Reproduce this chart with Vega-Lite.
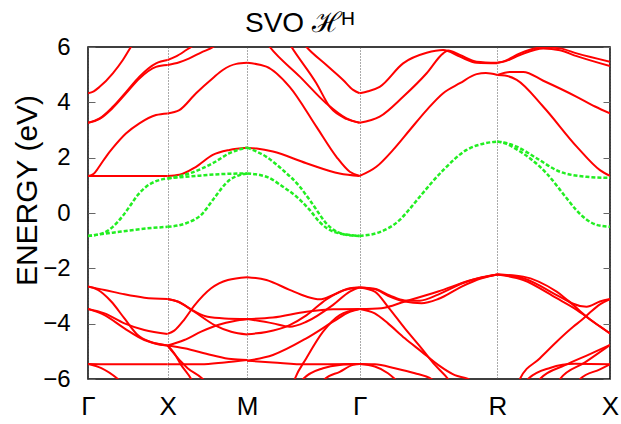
{
  "$schema": "https://vega.github.io/schema/vega-lite/v6.json",
  "width": 522,
  "height": 332,
  "autosize": {"type": "none"},
  "padding": {"left": 88, "top": 47, "right": 11, "bottom": 45},
  "background": "white",
  "title": {"text": "SVO ℋᴴ", "frame": "group", "anchor": "start", "dx": 157, "offset": -3, "fontSize": 28, "font": "Liberation Sans", "fontWeight": "normal", "color": "black"},
  "config": {
    "view": {"stroke": "black", "strokeWidth": 1.5},
    "axis": {"labelFont": "Liberation Sans", "titleFont": "Liberation Sans", "labelColor": "black", "titleColor": "black", "titleFontWeight": "normal"}
  },
  "datasets": {
    "red": [
      {"b": "r1", "k": 0, "e": 4.33}, {"b": "r1", "k": 0.036, "e": 4.4}, {"b": "r1", "k": 0.073, "e": 4.56}, {"b": "r1", "k": 0.156, "e": 5.05}, {"b": "r1", "k": 0.219, "e": 5.53}, {"b": "r1", "k": 0.271, "e": 6.01}, {"b": "r1", "k": 0.323, "e": 6.4},
      {"b": "r2", "k": 0, "e": 3.26}, {"b": "r2", "k": 0.073, "e": 3.42}, {"b": "r2", "k": 0.156, "e": 3.84}, {"b": "r2", "k": 0.24, "e": 4.38}, {"b": "r2", "k": 0.323, "e": 4.93}, {"b": "r2", "k": 0.4275, "e": 5.41}, {"b": "r2", "k": 0.5, "e": 5.53},
      {"b": "r3", "k": 0, "e": 3.26}, {"b": "r3", "k": 0.073, "e": 3.4}, {"b": "r3", "k": 0.156, "e": 3.8}, {"b": "r3", "k": 0.24, "e": 4.33}, {"b": "r3", "k": 0.323, "e": 4.86}, {"b": "r3", "k": 0.4275, "e": 5.28}, {"b": "r3", "k": 0.5, "e": 5.35},
      {"b": "r4", "k": 0, "e": 1.34}, {"b": "r4", "k": 0.25, "e": 1.34}, {"b": "r4", "k": 0.5, "e": 1.34},
      {"b": "r5", "k": 0, "e": 1.34}, {"b": "r5", "k": 0.036, "e": 1.42}, {"b": "r5", "k": 0.073, "e": 1.7}, {"b": "r5", "k": 0.115, "e": 2.05}, {"b": "r5", "k": 0.156, "e": 2.35}, {"b": "r5", "k": 0.24, "e": 2.88}, {"b": "r5", "k": 0.323, "e": 3.24}, {"b": "r5", "k": 0.4275, "e": 3.54}, {"b": "r5", "k": 0.5, "e": 3.6},
      {"b": "r6", "k": 0.5, "e": 3.6}, {"b": "r6", "k": 0.574, "e": 3.72}, {"b": "r6", "k": 0.679, "e": 4.33}, {"b": "r6", "k": 0.784, "e": 4.87}, {"b": "r6", "k": 0.847, "e": 5.17}, {"b": "r6", "k": 0.932, "e": 5.39}, {"b": "r6", "k": 1.0, "e": 5.43},
      {"b": "r7", "k": 0.5, "e": 1.34}, {"b": "r7", "k": 0.574, "e": 1.38}, {"b": "r7", "k": 0.679, "e": 1.67}, {"b": "r7", "k": 0.784, "e": 2.1}, {"b": "r7", "k": 0.889, "e": 2.28}, {"b": "r7", "k": 1.0, "e": 2.36},
      {"b": "r8", "k": 0.5, "e": 5.53}, {"b": "r8", "k": 0.55, "e": 5.65}, {"b": "r8", "k": 0.62, "e": 5.9}, {"b": "r8", "k": 0.66, "e": 6.05}, {"b": "r8", "k": 0.72, "e": 6.3},
      {"b": "r9", "k": 0.5, "e": 5.35}, {"b": "r9", "k": 0.574, "e": 5.45}, {"b": "r9", "k": 0.637, "e": 5.59}, {"b": "r9", "k": 0.71, "e": 5.8}, {"b": "r9", "k": 0.789, "e": 6.01}, {"b": "r9", "k": 0.85, "e": 6.3},
      {"b": "r10", "k": 1.0, "e": 5.43}, {"b": "r10", "k": 1.121, "e": 5.29}, {"b": "r10", "k": 1.267, "e": 4.56}, {"b": "r10", "k": 1.435, "e": 3.12}, {"b": "r10", "k": 1.561, "e": 2.03}, {"b": "r10", "k": 1.645, "e": 1.49}, {"b": "r10", "k": 1.7071, "e": 1.34},
      {"b": "r11", "k": 1.0, "e": 2.36}, {"b": "r11", "k": 1.06, "e": 2.33}, {"b": "r11", "k": 1.162, "e": 2.22}, {"b": "r11", "k": 1.372, "e": 1.8}, {"b": "r11", "k": 1.581, "e": 1.43}, {"b": "r11", "k": 1.7071, "e": 1.34},
      {"b": "r12", "k": 1.331, "e": 6.3}, {"b": "r12", "k": 1.372, "e": 6.01}, {"b": "r12", "k": 1.498, "e": 5.35}, {"b": "r12", "k": 1.603, "e": 4.81}, {"b": "r12", "k": 1.666, "e": 4.45}, {"b": "r12", "k": 1.7071, "e": 4.33},
      {"b": "r13", "k": 1.091, "e": 6.4}, {"b": "r13", "k": 1.141, "e": 6.01}, {"b": "r13", "k": 1.331, "e": 4.93}, {"b": "r13", "k": 1.498, "e": 3.96}, {"b": "r13", "k": 1.624, "e": 3.42}, {"b": "r13", "k": 1.7071, "e": 3.26},
      {"b": "r14", "k": 1.242, "e": 6.35}, {"b": "r14", "k": 1.278, "e": 6.01}, {"b": "r14", "k": 1.435, "e": 4.69}, {"b": "r14", "k": 1.519, "e": 3.84}, {"b": "r14", "k": 1.624, "e": 3.4}, {"b": "r14", "k": 1.7071, "e": 3.26},
      {"b": "r15", "k": 1.7071, "e": 4.33}, {"b": "r15", "k": 1.76, "e": 4.4}, {"b": "r15", "k": 1.833, "e": 4.56}, {"b": "r15", "k": 1.98, "e": 5.41}, {"b": "r15", "k": 2.128, "e": 5.79}, {"b": "r15", "k": 2.232, "e": 5.89}, {"b": "r15", "k": 2.337, "e": 5.65}, {"b": "r15", "k": 2.442, "e": 5.43}, {"b": "r15", "k": 2.5731, "e": 5.41},
      {"b": "r16", "k": 1.7071, "e": 3.26}, {"b": "r16", "k": 1.833, "e": 3.48}, {"b": "r16", "k": 1.98, "e": 4.2}, {"b": "r16", "k": 2.128, "e": 5.05}, {"b": "r16", "k": 2.232, "e": 5.77}, {"b": "r16", "k": 2.263, "e": 5.87}, {"b": "r16", "k": 2.337, "e": 5.71}, {"b": "r16", "k": 2.442, "e": 5.47}, {"b": "r16", "k": 2.5731, "e": 5.43},
      {"b": "r18", "k": 1.7071, "e": 1.34}, {"b": "r18", "k": 1.812, "e": 1.67}, {"b": "r18", "k": 1.917, "e": 2.28}, {"b": "r18", "k": 2.022, "e": 3.0}, {"b": "r18", "k": 2.128, "e": 3.72}, {"b": "r18", "k": 2.232, "e": 4.33}, {"b": "r18", "k": 2.337, "e": 4.69}, {"b": "r18", "k": 2.442, "e": 5.02}, {"b": "r18", "k": 2.5, "e": 5.06}, {"b": "r18", "k": 2.5731, "e": 4.99},
      {"b": "r19", "k": 2.5731, "e": 4.99}, {"b": "r19", "k": 2.652, "e": 5.1}, {"b": "r19", "k": 2.735, "e": 5.1}, {"b": "r19", "k": 2.861, "e": 4.78}, {"b": "r19", "k": 3.071, "e": 4.2}, {"b": "r19", "k": 3.186, "e": 3.85}, {"b": "r19", "k": 3.2802, "e": 3.6},
      {"b": "r20", "k": 2.5731, "e": 4.99}, {"b": "r20", "k": 2.62, "e": 4.97}, {"b": "r20", "k": 2.694, "e": 4.81}, {"b": "r20", "k": 2.861, "e": 3.84}, {"b": "r20", "k": 3.071, "e": 2.4}, {"b": "r20", "k": 3.217, "e": 1.55}, {"b": "r20", "k": 3.2802, "e": 1.34},
      {"b": "r21", "k": 2.5731, "e": 5.43}, {"b": "r21", "k": 2.62, "e": 5.5}, {"b": "r21", "k": 2.714, "e": 5.77}, {"b": "r21", "k": 2.861, "e": 5.99}, {"b": "r21", "k": 2.966, "e": 5.95}, {"b": "r21", "k": 3.071, "e": 5.77}, {"b": "r21", "k": 3.2802, "e": 5.47},
      {"b": "r22", "k": 2.5731, "e": 5.43}, {"b": "r22", "k": 2.62, "e": 5.48}, {"b": "r22", "k": 2.714, "e": 5.71}, {"b": "r22", "k": 2.861, "e": 5.95}, {"b": "r22", "k": 2.966, "e": 5.88}, {"b": "r22", "k": 3.071, "e": 5.67}, {"b": "r22", "k": 3.2802, "e": 5.31},
      {"b": "o1", "k": 0, "e": -2.66}, {"b": "o1", "k": 0.104, "e": -2.78}, {"b": "o1", "k": 0.229, "e": -2.94}, {"b": "o1", "k": 0.354, "e": -3.06}, {"b": "o1", "k": 0.5, "e": -3.11},
      {"b": "o2", "k": 0, "e": -2.66}, {"b": "o2", "k": 0.0625, "e": -2.78}, {"b": "o2", "k": 0.146, "e": -3.2}, {"b": "o2", "k": 0.229, "e": -3.81}, {"b": "o2", "k": 0.3125, "e": -4.41}, {"b": "o2", "k": 0.396, "e": -4.67}, {"b": "o2", "k": 0.5, "e": -4.79},
      {"b": "o3", "k": 0, "e": -3.47}, {"b": "o3", "k": 0.104, "e": -3.63}, {"b": "o3", "k": 0.229, "e": -3.99}, {"b": "o3", "k": 0.354, "e": -4.23}, {"b": "o3", "k": 0.5, "e": -4.37},
      {"b": "o4", "k": 0, "e": -3.47}, {"b": "o4", "k": 0.104, "e": -3.69}, {"b": "o4", "k": 0.229, "e": -4.17}, {"b": "o4", "k": 0.354, "e": -4.59}, {"b": "o4", "k": 0.5, "e": -4.79},
      {"b": "o5", "k": 0, "e": -5.46}, {"b": "o5", "k": 0.25, "e": -5.47}, {"b": "o5", "k": 0.5, "e": -5.47},
      {"b": "o6", "k": 0, "e": -5.46}, {"b": "o6", "k": 0.084, "e": -5.61}, {"b": "o6", "k": 0.188, "e": -6.0}, {"b": "o6", "k": 0.248, "e": -6.3},
      {"b": "o7", "k": 0.5, "e": -4.37}, {"b": "o7", "k": 0.542, "e": -4.25}, {"b": "o7", "k": 0.605, "e": -3.85}, {"b": "o7", "k": 0.668, "e": -3.35}, {"b": "o7", "k": 0.774, "e": -2.72}, {"b": "o7", "k": 0.879, "e": -2.42}, {"b": "o7", "k": 1.0, "e": -2.32},
      {"b": "o8", "k": 0.5, "e": -3.11}, {"b": "o8", "k": 0.563, "e": -3.2}, {"b": "o8", "k": 0.668, "e": -3.57}, {"b": "o8", "k": 0.795, "e": -4.05}, {"b": "o8", "k": 0.9, "e": -4.29}, {"b": "o8", "k": 1.0, "e": -4.39},
      {"b": "o9", "k": 0.5, "e": -3.11}, {"b": "o9", "k": 0.563, "e": -3.2}, {"b": "o9", "k": 0.668, "e": -3.55}, {"b": "o9", "k": 0.752, "e": -3.75}, {"b": "o9", "k": 0.858, "e": -3.81}, {"b": "o9", "k": 1.0, "e": -3.83},
      {"b": "o10", "k": 0.5, "e": -4.79}, {"b": "o10", "k": 0.605, "e": -4.59}, {"b": "o10", "k": 0.711, "e": -4.29}, {"b": "o10", "k": 0.816, "e": -4.05}, {"b": "o10", "k": 0.921, "e": -3.9}, {"b": "o10", "k": 1.0, "e": -3.84},
      {"b": "o11", "k": 0.5, "e": -4.79}, {"b": "o11", "k": 0.605, "e": -4.89}, {"b": "o11", "k": 0.774, "e": -5.13}, {"b": "o11", "k": 0.9, "e": -5.28}, {"b": "o11", "k": 1.0, "e": -5.31},
      {"b": "o12", "k": 0.5, "e": -5.47}, {"b": "o12", "k": 0.711, "e": -5.47}, {"b": "o12", "k": 0.858, "e": -5.4}, {"b": "o12", "k": 1.0, "e": -5.31},
      {"b": "o13", "k": 0.5, "e": -4.79}, {"b": "o13", "k": 0.542, "e": -5.07}, {"b": "o13", "k": 0.585, "e": -5.49}, {"b": "o13", "k": 0.648, "e": -6.0}, {"b": "o13", "k": 0.675, "e": -6.3},
      {"b": "o14", "k": 0.5, "e": -4.79}, {"b": "o14", "k": 0.521, "e": -4.95}, {"b": "o14", "k": 0.626, "e": -5.61}, {"b": "o14", "k": 0.721, "e": -6.0}, {"b": "o14", "k": 0.751, "e": -6.2},
      {"b": "o15", "k": 1.0, "e": -2.32}, {"b": "o15", "k": 1.121, "e": -2.42}, {"b": "o15", "k": 1.267, "e": -2.78}, {"b": "o15", "k": 1.372, "e": -3.02}, {"b": "o15", "k": 1.456, "e": -3.12}, {"b": "o15", "k": 1.54, "e": -2.96}, {"b": "o15", "k": 1.645, "e": -2.72}, {"b": "o15", "k": 1.7071, "e": -2.69},
      {"b": "o16", "k": 1.0, "e": -3.83}, {"b": "o16", "k": 1.162, "e": -3.78}, {"b": "o16", "k": 1.372, "e": -3.57}, {"b": "o16", "k": 1.54, "e": -3.48}, {"b": "o16", "k": 1.7071, "e": -3.47},
      {"b": "o17", "k": 1.0, "e": -3.83}, {"b": "o17", "k": 1.162, "e": -3.99}, {"b": "o17", "k": 1.267, "e": -4.11}, {"b": "o17", "k": 1.372, "e": -3.93}, {"b": "o17", "k": 1.54, "e": -3.32}, {"b": "o17", "k": 1.645, "e": -2.84}, {"b": "o17", "k": 1.7071, "e": -2.69},
      {"b": "o18", "k": 1.0, "e": -4.38}, {"b": "o18", "k": 1.121, "e": -4.3}, {"b": "o18", "k": 1.267, "e": -4.05}, {"b": "o18", "k": 1.372, "e": -3.7}, {"b": "o18", "k": 1.498, "e": -3.12}, {"b": "o18", "k": 1.603, "e": -2.8}, {"b": "o18", "k": 1.7071, "e": -2.69},
      {"b": "o19", "k": 1.0, "e": -5.34}, {"b": "o19", "k": 1.162, "e": -5.13}, {"b": "o19", "k": 1.372, "e": -4.53}, {"b": "o19", "k": 1.54, "e": -3.93}, {"b": "o19", "k": 1.645, "e": -3.57}, {"b": "o19", "k": 1.7071, "e": -3.47},
      {"b": "o20", "k": 1.0, "e": -5.34}, {"b": "o20", "k": 1.162, "e": -5.4}, {"b": "o20", "k": 1.372, "e": -5.47}, {"b": "o20", "k": 1.7071, "e": -5.46},
      {"b": "o21", "k": 1.28, "e": -6.3}, {"b": "o21", "k": 1.299, "e": -6.0}, {"b": "o21", "k": 1.372, "e": -5.25}, {"b": "o21", "k": 1.477, "e": -4.29}, {"b": "o21", "k": 1.582, "e": -3.69}, {"b": "o21", "k": 1.7071, "e": -3.47},
      {"b": "o22", "k": 1.33, "e": -6.2}, {"b": "o22", "k": 1.352, "e": -6.0}, {"b": "o22", "k": 1.477, "e": -5.61}, {"b": "o22", "k": 1.582, "e": -5.49}, {"b": "o22", "k": 1.7071, "e": -5.46},
      {"b": "o23", "k": 1.47, "e": -6.2}, {"b": "o23", "k": 1.488, "e": -6.0}, {"b": "o23", "k": 1.582, "e": -5.74}, {"b": "o23", "k": 1.666, "e": -5.49}, {"b": "o23", "k": 1.7071, "e": -5.46},
      {"b": "o24", "k": 1.7071, "e": -2.69}, {"b": "o24", "k": 1.802, "e": -2.75}, {"b": "o24", "k": 1.885, "e": -2.99}, {"b": "o24", "k": 1.991, "e": -3.2}, {"b": "o24", "k": 2.096, "e": -3.26}, {"b": "o24", "k": 2.2, "e": -3.11}, {"b": "o24", "k": 2.348, "e": -2.66}, {"b": "o24", "k": 2.474, "e": -2.36}, {"b": "o24", "k": 2.5731, "e": -2.22},
      {"b": "o25", "k": 1.7071, "e": -2.69}, {"b": "o25", "k": 1.802, "e": -2.74}, {"b": "o25", "k": 1.896, "e": -2.98}, {"b": "o25", "k": 1.991, "e": -3.16}, {"b": "o25", "k": 2.085, "e": -3.17}, {"b": "o25", "k": 2.2, "e": -2.95}, {"b": "o25", "k": 2.348, "e": -2.55}, {"b": "o25", "k": 2.474, "e": -2.32}, {"b": "o25", "k": 2.5731, "e": -2.22},
      {"b": "o26", "k": 1.7071, "e": -3.47}, {"b": "o26", "k": 1.844, "e": -3.44}, {"b": "o26", "k": 1.991, "e": -3.2}, {"b": "o26", "k": 2.2, "e": -2.84}, {"b": "o26", "k": 2.41, "e": -2.42}, {"b": "o26", "k": 2.5731, "e": -2.22},
      {"b": "o27", "k": 1.7071, "e": -2.69}, {"b": "o27", "k": 1.802, "e": -2.84}, {"b": "o27", "k": 1.885, "e": -3.39}, {"b": "o27", "k": 1.991, "e": -4.17}, {"b": "o27", "k": 2.096, "e": -4.89}, {"b": "o27", "k": 2.18, "e": -5.49}, {"b": "o27", "k": 2.263, "e": -6.0}, {"b": "o27", "k": 2.3, "e": -6.3},
      {"b": "o28", "k": 1.7071, "e": -3.47}, {"b": "o28", "k": 1.802, "e": -3.63}, {"b": "o28", "k": 1.885, "e": -3.99}, {"b": "o28", "k": 1.991, "e": -4.53}, {"b": "o28", "k": 2.096, "e": -5.01}, {"b": "o28", "k": 2.2, "e": -5.49}, {"b": "o28", "k": 2.305, "e": -5.86}, {"b": "o28", "k": 2.389, "e": -6.0}, {"b": "o28", "k": 2.42, "e": -6.1},
      {"b": "o29", "k": 1.7071, "e": -5.46}, {"b": "o29", "k": 1.802, "e": -5.47}, {"b": "o29", "k": 1.928, "e": -5.61}, {"b": "o29", "k": 2.054, "e": -5.79}, {"b": "o29", "k": 2.159, "e": -6.0}, {"b": "o29", "k": 2.2, "e": -6.15},
      {"b": "o30", "k": 1.7071, "e": -5.46}, {"b": "o30", "k": 1.802, "e": -5.55}, {"b": "o30", "k": 1.885, "e": -5.79}, {"b": "o30", "k": 1.928, "e": -6.0}, {"b": "o30", "k": 1.96, "e": -6.2},
      {"b": "o31", "k": 2.5731, "e": -2.22}, {"b": "o31", "k": 2.735, "e": -2.3}, {"b": "o31", "k": 2.945, "e": -2.84}, {"b": "o31", "k": 3.049, "e": -3.28}, {"b": "o31", "k": 3.133, "e": -3.39}, {"b": "o31", "k": 3.217, "e": -3.2}, {"b": "o31", "k": 3.2802, "e": -3.11},
      {"b": "o32", "k": 2.5731, "e": -2.22}, {"b": "o32", "k": 2.735, "e": -2.42}, {"b": "o32", "k": 2.945, "e": -3.08}, {"b": "o32", "k": 3.071, "e": -3.5}, {"b": "o32", "k": 3.123, "e": -3.71}, {"b": "o32", "k": 3.197, "e": -4.02}, {"b": "o32", "k": 3.2802, "e": -4.35},
      {"b": "o33", "k": 2.5731, "e": -2.22}, {"b": "o33", "k": 2.735, "e": -2.36}, {"b": "o33", "k": 2.945, "e": -2.97}, {"b": "o33", "k": 3.049, "e": -3.32}, {"b": "o33", "k": 3.102, "e": -3.6}, {"b": "o33", "k": 3.154, "e": -3.85}, {"b": "o33", "k": 3.217, "e": -4.1}, {"b": "o33", "k": 3.2802, "e": -4.35},
      {"b": "o34", "k": 2.702, "e": -6.3}, {"b": "o34", "k": 2.714, "e": -6.0}, {"b": "o34", "k": 2.84, "e": -5.25}, {"b": "o34", "k": 2.945, "e": -4.65}, {"b": "o34", "k": 3.049, "e": -4.11}, {"b": "o34", "k": 3.102, "e": -3.87}, {"b": "o34", "k": 3.154, "e": -3.6}, {"b": "o34", "k": 3.217, "e": -3.3}, {"b": "o34", "k": 3.2802, "e": -3.11},
      {"b": "o35", "k": 2.75, "e": -6.2}, {"b": "o35", "k": 2.765, "e": -6.0}, {"b": "o35", "k": 2.903, "e": -5.6}, {"b": "o35", "k": 3.06, "e": -5.45}, {"b": "o35", "k": 3.2802, "e": -5.47},
      {"b": "o36", "k": 2.83, "e": -6.2}, {"b": "o36", "k": 2.84, "e": -6.0}, {"b": "o36", "k": 2.997, "e": -5.5}, {"b": "o36", "k": 3.154, "e": -5.1}, {"b": "o36", "k": 3.2802, "e": -4.77},
      {"b": "o37", "k": 2.95, "e": -6.2}, {"b": "o37", "k": 2.966, "e": -6.0}, {"b": "o37", "k": 3.123, "e": -5.4}, {"b": "o37", "k": 3.2802, "e": -4.77},
      {"b": "o38", "k": 3.08, "e": -6.2}, {"b": "o38", "k": 3.092, "e": -6.0}, {"b": "o38", "k": 3.217, "e": -5.65}, {"b": "o38", "k": 3.2802, "e": -5.47}
    ],
    "green": [
      {"b": "g1", "k": 0, "e": -0.83}, {"b": "g1", "k": 0.098, "e": -0.72}, {"b": "g1", "k": 0.156, "e": -0.5}, {"b": "g1", "k": 0.219, "e": -0.1}, {"b": "g1", "k": 0.261, "e": 0.23}, {"b": "g1", "k": 0.3125, "e": 0.65}, {"b": "g1", "k": 0.365, "e": 0.95}, {"b": "g1", "k": 0.4275, "e": 1.15}, {"b": "g1", "k": 0.5, "e": 1.25},
      {"b": "g2", "k": 0, "e": -0.83}, {"b": "g2", "k": 0.156, "e": -0.71}, {"b": "g2", "k": 0.365, "e": -0.56}, {"b": "g2", "k": 0.5, "e": -0.5},
      {"b": "g3", "k": 0.5, "e": 1.25}, {"b": "g3", "k": 0.637, "e": 1.43}, {"b": "g3", "k": 0.784, "e": 1.8}, {"b": "g3", "k": 0.889, "e": 2.16}, {"b": "g3", "k": 0.953, "e": 2.3}, {"b": "g3", "k": 1.0, "e": 2.36},
      {"b": "g4", "k": 0.5, "e": 1.25}, {"b": "g4", "k": 0.7, "e": 1.35}, {"b": "g4", "k": 0.85, "e": 1.41}, {"b": "g4", "k": 1.0, "e": 1.43},
      {"b": "g5", "k": 0.5, "e": -0.5}, {"b": "g5", "k": 0.616, "e": -0.37}, {"b": "g5", "k": 0.721, "e": -0.01}, {"b": "g5", "k": 0.784, "e": 0.47}, {"b": "g5", "k": 0.889, "e": 1.19}, {"b": "g5", "k": 0.953, "e": 1.37}, {"b": "g5", "k": 1.0, "e": 1.43},
      {"b": "g6", "k": 1.0, "e": 2.36}, {"b": "g6", "k": 1.121, "e": 2.03}, {"b": "g6", "k": 1.225, "e": 1.55}, {"b": "g6", "k": 1.331, "e": 0.95}, {"b": "g6", "k": 1.393, "e": 0.47}, {"b": "g6", "k": 1.519, "e": -0.5}, {"b": "g6", "k": 1.614, "e": -0.78}, {"b": "g6", "k": 1.7071, "e": -0.83},
      {"b": "g7", "k": 1.0, "e": 1.43}, {"b": "g7", "k": 1.121, "e": 1.31}, {"b": "g7", "k": 1.225, "e": 0.95}, {"b": "g7", "k": 1.31, "e": 0.59}, {"b": "g7", "k": 1.393, "e": 0.11}, {"b": "g7", "k": 1.456, "e": -0.33}, {"b": "g7", "k": 1.551, "e": -0.69}, {"b": "g7", "k": 1.7071, "e": -0.83},
      {"b": "g8", "k": 1.7071, "e": -0.83}, {"b": "g8", "k": 1.833, "e": -0.69}, {"b": "g8", "k": 1.959, "e": -0.25}, {"b": "g8", "k": 2.022, "e": 0.15}, {"b": "g8", "k": 2.085, "e": 0.59}, {"b": "g8", "k": 2.232, "e": 1.55}, {"b": "g8", "k": 2.379, "e": 2.28}, {"b": "g8", "k": 2.495, "e": 2.52}, {"b": "g8", "k": 2.5731, "e": 2.58},
      {"b": "g9", "k": 2.5731, "e": 2.58}, {"b": "g9", "k": 2.62, "e": 2.54}, {"b": "g9", "k": 2.694, "e": 2.4}, {"b": "g9", "k": 2.819, "e": 1.98}, {"b": "g9", "k": 2.966, "e": 1.49}, {"b": "g9", "k": 3.133, "e": 1.31}, {"b": "g9", "k": 3.2802, "e": 1.27},
      {"b": "g10", "k": 2.5731, "e": 2.58}, {"b": "g10", "k": 2.62, "e": 2.52}, {"b": "g10", "k": 2.694, "e": 2.3}, {"b": "g10", "k": 2.882, "e": 1.43}, {"b": "g10", "k": 3.008, "e": 0.53}, {"b": "g10", "k": 3.066, "e": 0.12}, {"b": "g10", "k": 3.129, "e": -0.22}, {"b": "g10", "k": 3.192, "e": -0.42}, {"b": "g10", "k": 3.2802, "e": -0.5}
    ]
  },
  "resolve": {"axis": {"y": "independent"}},
  "layer": [
    {
      "data": {"name": "red"},
      "mark": {"type": "line", "color": "#ff0000", "strokeWidth": 2, "interpolate": "monotone", "clip": true},
      "encoding": {
        "x": {
          "field": "k", "type": "quantitative",
          "scale": {"domain": [0, 3.2802], "nice": false, "zero": false},
          "axis": {
            "values": [0, 0.5, 1, 1.7071, 2.5731, 3.2802],
            "labelExpr": "datum.value < 0.25 ? 'Γ' : datum.value < 0.75 ? 'X' : datum.value < 1.3 ? 'M' : datum.value < 2 ? 'Γ' : datum.value < 3 ? 'R' : 'X'",
            "title": null, "labelFontSize": 26, "labelPadding": 14, "labelFlush": false, "labelOverlap": false,
            "ticks": false, "domain": false,
            "grid": true, "gridDash": [1, 2], "gridColor": "#555555", "gridWidth": 1
          }
        },
        "y": {
          "field": "e", "type": "quantitative",
          "scale": {"domain": [-6, 6], "nice": false, "zero": false},
          "axis": {
            "values": [-6, -4, -2, 0, 2, 4, 6],
            "title": "ENERGY (eV)", "titleFontSize": 30, "titleX": -46, "titleY": 143,
            "labelFontSize": 24, "tickSize": -7, "tickColor": "#666666", "labelPadding": 25,
            "domain": false, "grid": false
          }
        },
        "detail": {"field": "b"}
      }
    },
    {
      "data": {"name": "green"},
      "mark": {"type": "line", "color": "#22ee22", "strokeWidth": 2.5, "strokeDash": [4, 2], "interpolate": "monotone", "clip": true},
      "encoding": {
        "x": {"field": "k", "type": "quantitative"},
        "y": {
          "field": "e", "type": "quantitative",
          "axis": {
            "orient": "right", "values": [-6, -4, -2, 0, 2, 4, 6],
            "labels": false, "title": null, "tickSize": -7, "tickColor": "#666666",
            "domain": false, "grid": false
          }
        },
        "detail": {"field": "b"}
      }
    }
  ]
}
